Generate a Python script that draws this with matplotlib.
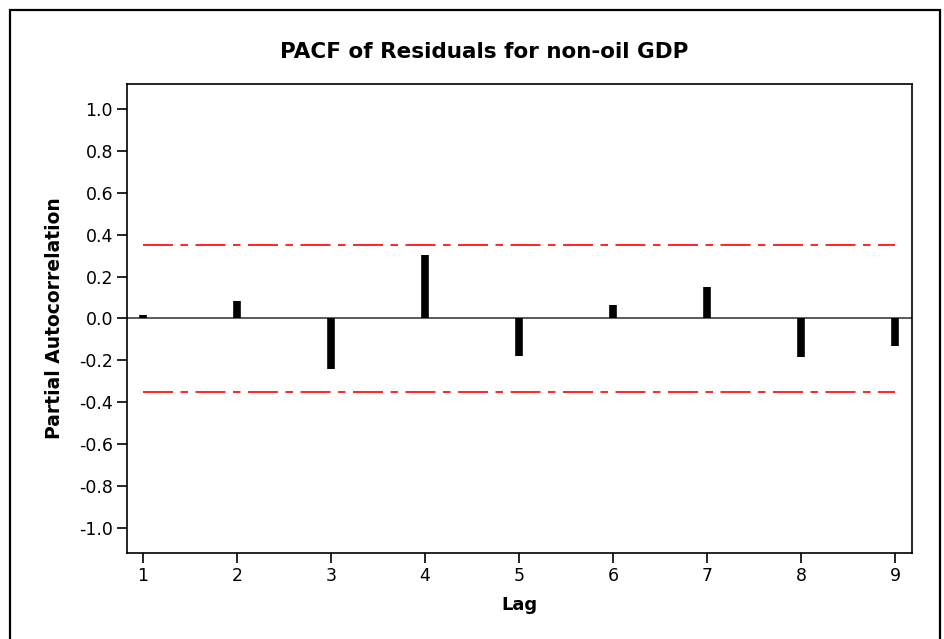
import matplotlib
matplotlib.use("Agg")
import matplotlib.pyplot as plt
from matplotlib.patches import Rectangle

# PACF values
lags = [1, 2, 3, 4, 5, 6, 7, 8, 9]
pacf = [0.018, 0.083, -0.240, 0.303, -0.178, 0.065, 0.152, -0.184, -0.130]
conf_limit = 0.348
yticks = [1.0, 0.8, 0.6, 0.4, 0.2, 0.0, -0.2, -0.4, -0.6, -0.8, -1.0]

W, H = 945, 639
fig = plt.figure(figsize=(W / 100, H / 100), dpi=100)
plt.rcParams["font.family"] = ["DejaVu Sans"]

# outer frame around whole graph
fig.patches.append(Rectangle((10 / W, -0.02), 930 / W, 1.02 - 10 / H,
                             transform=fig.transFigure, fill=False,
                             edgecolor="black", linewidth=1.6))

ax = fig.add_axes([127 / W, 1 - 553 / H, (912 - 127) / W, (553 - 84) / H])

ax.axhline(0, color="#404040", linewidth=1.2, zorder=1)
ax.vlines(lags, 0, pacf, color="black", linewidth=5.5, zorder=3)
for s in (1, -1):
    ax.plot([lags[0], lags[-1]], [s * conf_limit] * 2, color="red",
            linewidth=1.2, dashes=(18, 4.5, 4.5, 4.5), zorder=2)

ax.set_xlim(0.83, 9.18)
ax.set_ylim(-1.117, 1.117)
ax.set_xticks(lags)
ax.set_yticks(yticks)
ax.set_yticklabels([f"{v:.1f}" for v in yticks])
ax.tick_params(labelsize=12.5, length=7, width=1.2, direction="out", pad=3)
for sp in ax.spines.values():
    sp.set_linewidth(1.2)

ax.set_xlabel("Lag", fontsize=13, fontweight="bold", labelpad=8)
ax.set_ylabel("Partial Autocorrelation", fontsize=13.5, fontweight="bold", labelpad=11)
fig.text(484 / W, 1 - 52 / H, "PACF of Residuals for non-oil GDP",
         ha="center", va="center", fontsize=15.5, fontweight="bold")

fig.savefig("out.png", dpi=100)
